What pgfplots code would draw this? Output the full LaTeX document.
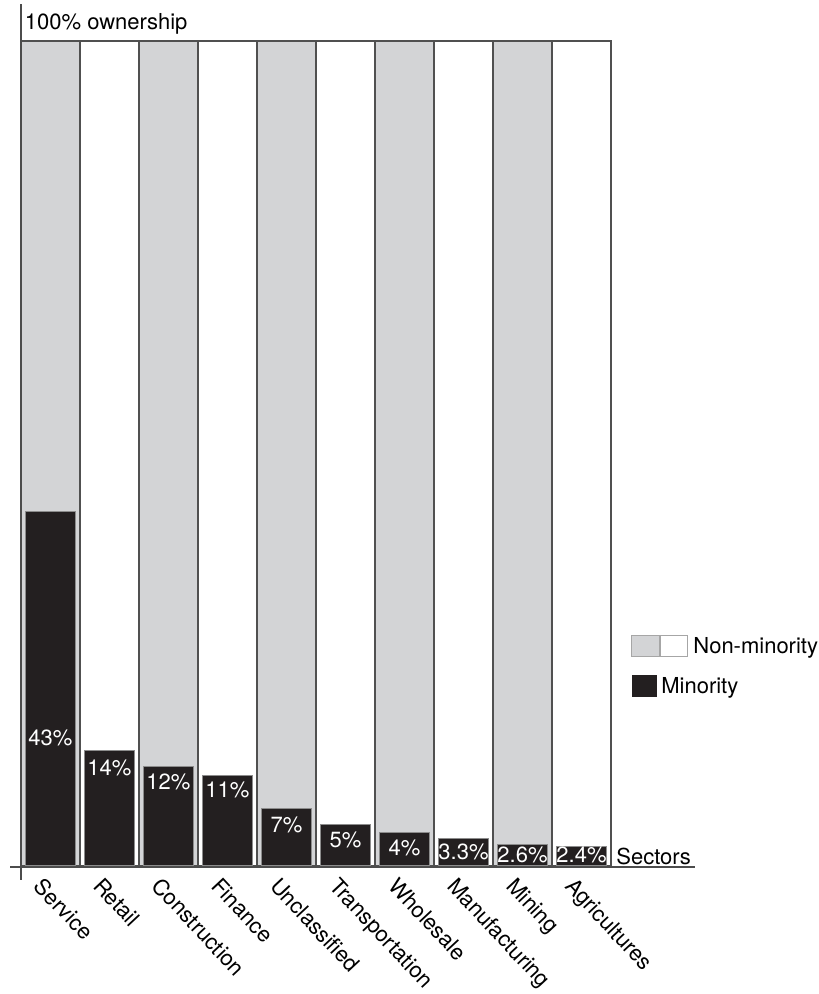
\documentclass[border=0pt]{standalone}
\usepackage{pgfplots}
\pgfplotsset{compat=1.18}
\usepackage{fontspec}
\setmainfont{TeX Gyre Heros}
\definecolor{colgray}{RGB}{211,212,214}
\definecolor{colblack}{RGB}{35,31,32}
\definecolor{coledge}{RGB}{80,80,80}
\newcommand{\lf}{\fontsize{11}{13}\selectfont}
\begin{document}
\begin{tikzpicture}
\begin{axis}[
  x=29.5pt, y=4.125pt,
  xmin=-0.686, xmax=10.92, ymin=-1.7, ymax=104,
  axis line style={draw=none},
  ytick=\empty,
  xtick={0,1,2,3,4,5,6,7,8,9},
  xticklabels={Service,Retail,Construction,Finance,Unclassified,Transportation,Wholesale,Manufacturing,Mining,Agricultures},
  major tick length=0pt,
  xticklabel style={rotate=-47, anchor=north west, inner sep=0pt, font=\lf, xshift=-3.5pt, yshift=-0.5pt},
  clip=false,
]
% background columns (100%)
\addplot[ybar, bar width=1, bar shift=0pt, fill=colgray, draw=coledge, line width=0.9pt]
  coordinates {(0,100) (2,100) (4,100) (6,100) (8,100)};
\addplot[ybar, bar width=1, bar shift=0pt, fill=white, draw=coledge, line width=0.9pt]
  coordinates {(1,100) (3,100) (5,100) (7,100) (9,100)};
% minority bars
\addplot[ybar, bar width=0.85, bar shift=0pt, fill=colblack, draw=black!45, line width=0.5pt]
  coordinates {(0,43) (1,14) (2,12) (3,11) (4,7) (5,5) (6,4) (7,3.3) (8,2.6) (9,2.4)};
% value labels
\addplot[draw=none, mark=none, nodes near coords, point meta=explicit symbolic,
  nodes near coords style={white, anchor=center, font=\lf, inner sep=0pt}]
  coordinates {(0,15.5) [43\%] (1,11.9) [14\%] (2,10.2) [12\%] (3,9.2) [11\%] (4,5.0) [7\%]
               (5,3.2) [5\%] (6,2.2) [4\%] (7,1.7) [3.3\%] (8,1.3) [2.6\%] (9,1.3) [2.4\%]};
% axis lines
\draw[black!70, line width=0.8pt] (axis cs:-0.5,-1.7) -- (axis cs:-0.5,104.5);
\draw[black!70, line width=0.8pt] (axis cs:-0.686,-0.1) -- (axis cs:10.92,-0.1);
% axis titles
\node[anchor=west, inner sep=0pt, font=\lf] at (axis cs:-0.44,102.1) {100\% ownership};
\node[anchor=west, inner sep=0pt, font=\lf] at (axis cs:9.585,1.1) {Sectors};
% legend
\filldraw[fill=colgray, draw=black!35, line width=0.5pt] (axis cs:9.856,27.88) rectangle (axis cs:10.314,25.33);
\filldraw[fill=white, draw=black!35, line width=0.5pt] (axis cs:10.347,27.88) rectangle (axis cs:10.805,25.33);
\node[anchor=west, inner sep=0pt, font=\lf] at (axis cs:10.89,26.4) {Non-minority};
\fill[colblack] (axis cs:9.856,23.15) rectangle (axis cs:10.28,20.48);
\node[anchor=west, inner sep=0pt, font=\lf] at (axis cs:10.347,21.6) {Minority};
\coordinate (bbSW) at (axis cs:-0.856,-15.52);
\coordinate (bbNE) at (axis cs:13.025,104.97);
\end{axis}
\pgfresetboundingbox
\path (bbSW) rectangle (bbNE);
\end{tikzpicture}
\end{document}
